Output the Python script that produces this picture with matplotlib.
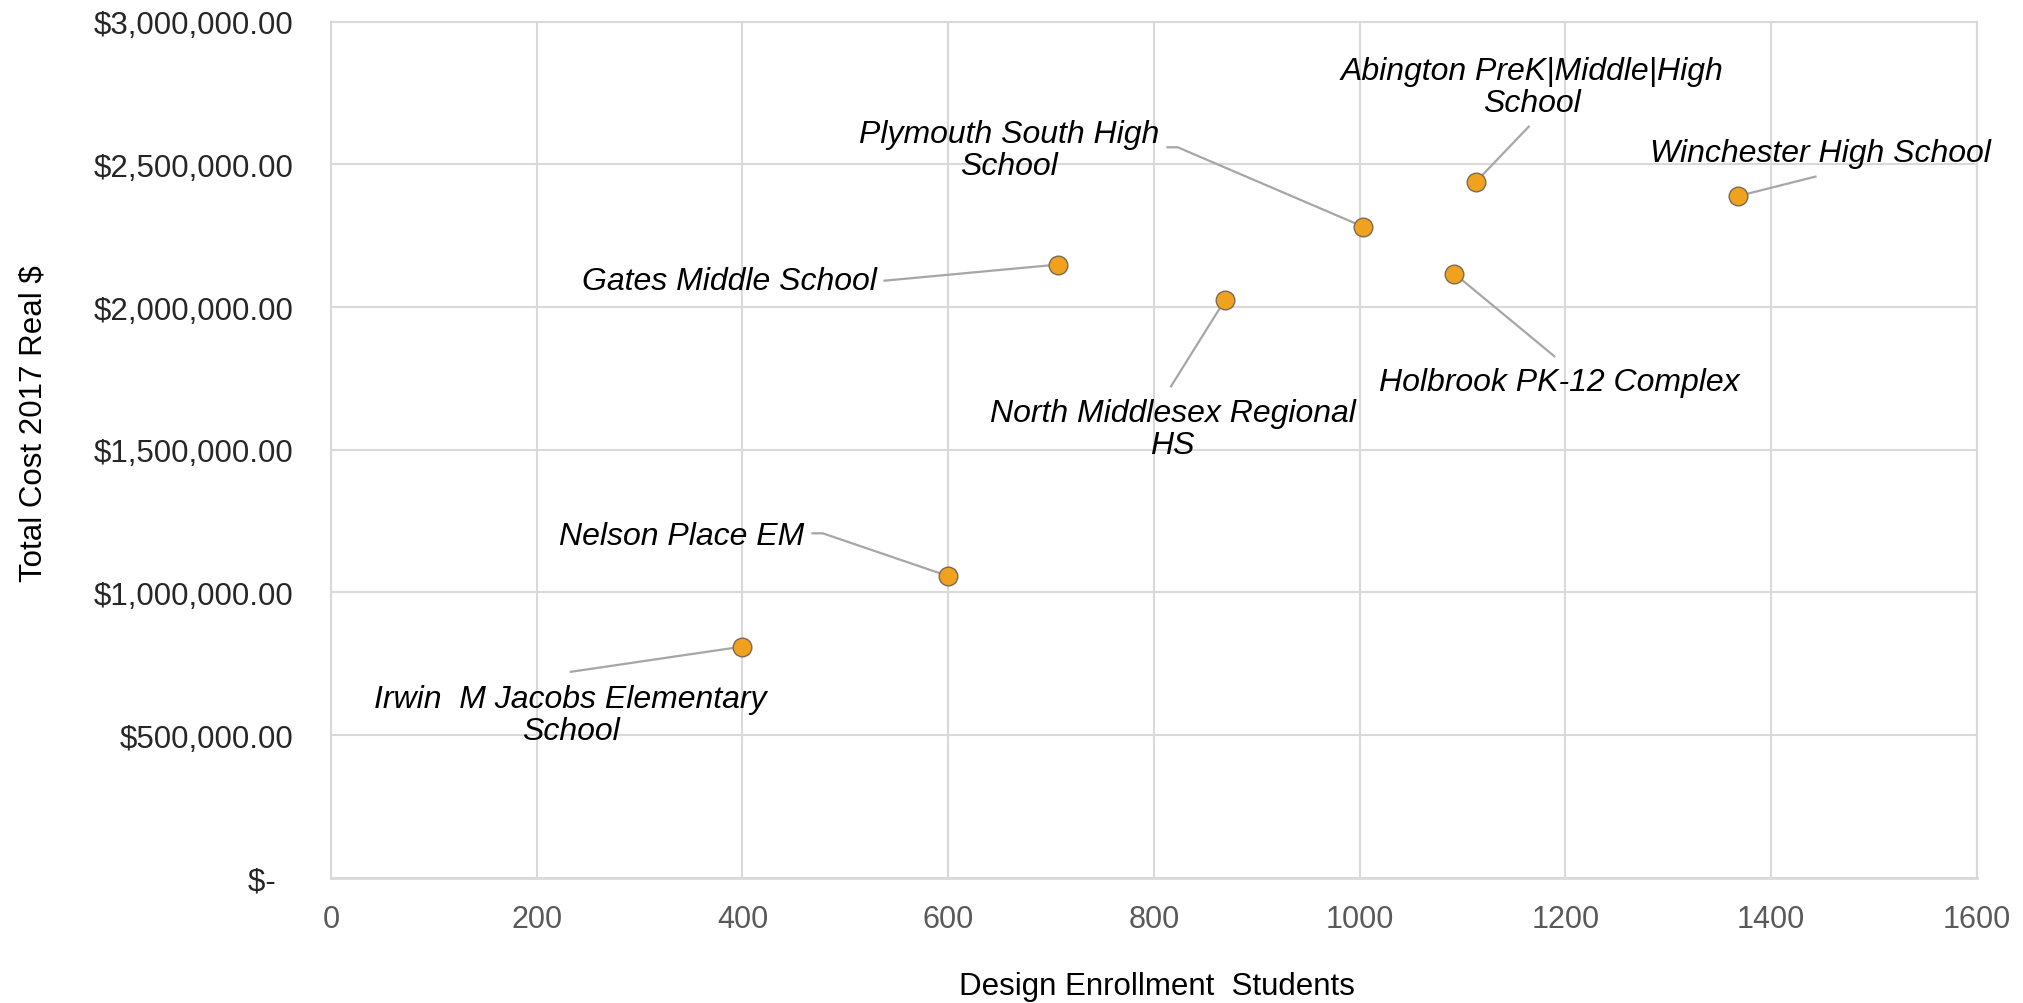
import matplotlib
matplotlib.use("Agg")
import matplotlib.pyplot as plt
from matplotlib.ticker import FuncFormatter, MultipleLocator

plt.rcParams['font.family'] = ['Liberation Sans', 'DejaVu Sans']

# ---- data ----
schools = [
    "Irwin  M Jacobs Elementary\nSchool",
    "Nelson Place EM",
    "Gates Middle School",
    "North Middlesex Regional\nHS",
    "Plymouth South High\nSchool",
    "Abington PreK|Middle|High\nSchool",
    "Winchester High School",
    "Holbrook PK-12 Complex",
]
enrollment = [400, 600, 707, 869, 1003, 1113, 1368, 1092]
total_cost = [810000, 1057000, 2149000, 2025000, 2282000, 2439000, 2389000, 2117000]

x_ticks = [0, 200, 400, 600, 800, 1000, 1200, 1400, 1600]
y_ticks = [0, 500000, 1000000, 1500000, 2000000, 2500000, 3000000]

# ---- label layout (data coords): label centre, leader start, optional bend ----
label_pos = [
    (233, 570000), (341, 1197000), (387, 2091000), (818, 1572000),
    (659, 2550000), (1167, 2772000), (1448, 2539000), (1194, 1737000),
]
leader_start = [
    (232, 721000), (467, 1207000), (537, 2092000), (816, 1719000),
    (812, 2560000), (1165, 2635000), (1444, 2458000), (1190, 1825000),
]
leader_bend = [None, (478, 1207000), None, None, (823, 2560000), None, None, None]

W, H = 2024, 1004
fig = plt.figure(figsize=(W / 100, H / 100), dpi=100)
ax_l, ax_r, ax_t, ax_b = 331, 1977, 22.7, 878.7
ax = fig.add_axes([ax_l / W, 1 - ax_b / H, (ax_r - ax_l) / W, (ax_b - ax_t) / H])

grid_c = '#D9D9D9'
ax.set_xlim(0, 1600)
ax.set_ylim(0, 3000000)
ax.set_xticks(x_ticks)
ax.set_yticks(y_ticks)
ax.grid(True, color=grid_c, linewidth=1.5, zorder=0)
ax.set_axisbelow(True)
for s in ax.spines.values():
    s.set_color(grid_c)
    s.set_linewidth(1.5)
ax.spines['bottom'].set_linewidth(2)


def yfmt(v, pos):
    if v == 0:
        return "$-  "
    return "${:,.2f}".format(v)


ax.yaxis.set_major_formatter(FuncFormatter(yfmt))
ax.tick_params(axis='x', length=0, pad=19, labelsize=22, labelcolor='#595959')
ax.tick_params(axis='y', length=0, pad=27, labelsize=22.5, labelcolor='#262626')

# leader lines
lc = '#A6A6A6'
for i in range(len(schools)):
    pts = [leader_start[i]]
    if leader_bend[i] is not None:
        pts.append(leader_bend[i])
    pts.append((enrollment[i], total_cost[i]))
    xs = [p[0] for p in pts]
    ys = [p[1] for p in pts]
    ax.plot(xs, ys, color=lc, linewidth=1.6, zorder=2, solid_capstyle='butt')

ax.scatter(enrollment, total_cost, s=180, color='#F0A11E', edgecolors='#7A6A55',
           linewidths=1.0, zorder=3)

for i, name in enumerate(schools):
    ax.text(label_pos[i][0], label_pos[i][1], name, ha='center', va='center',
            fontsize=23, fontstyle='italic', color='black', linespacing=1.1,
            multialignment='center', zorder=4)

fig.text(34 / W, 1 - 424 / H, "Total Cost 2017 Real $", rotation=90,
         ha='center', va='center', fontsize=22.5, color='black')
fig.text(1157 / W, 1 - 987 / H, "Design Enrollment  Students",
         ha='center', va='center', fontsize=22.5, color='black')

fig.savefig("out.png", dpi=100, facecolor='white')
